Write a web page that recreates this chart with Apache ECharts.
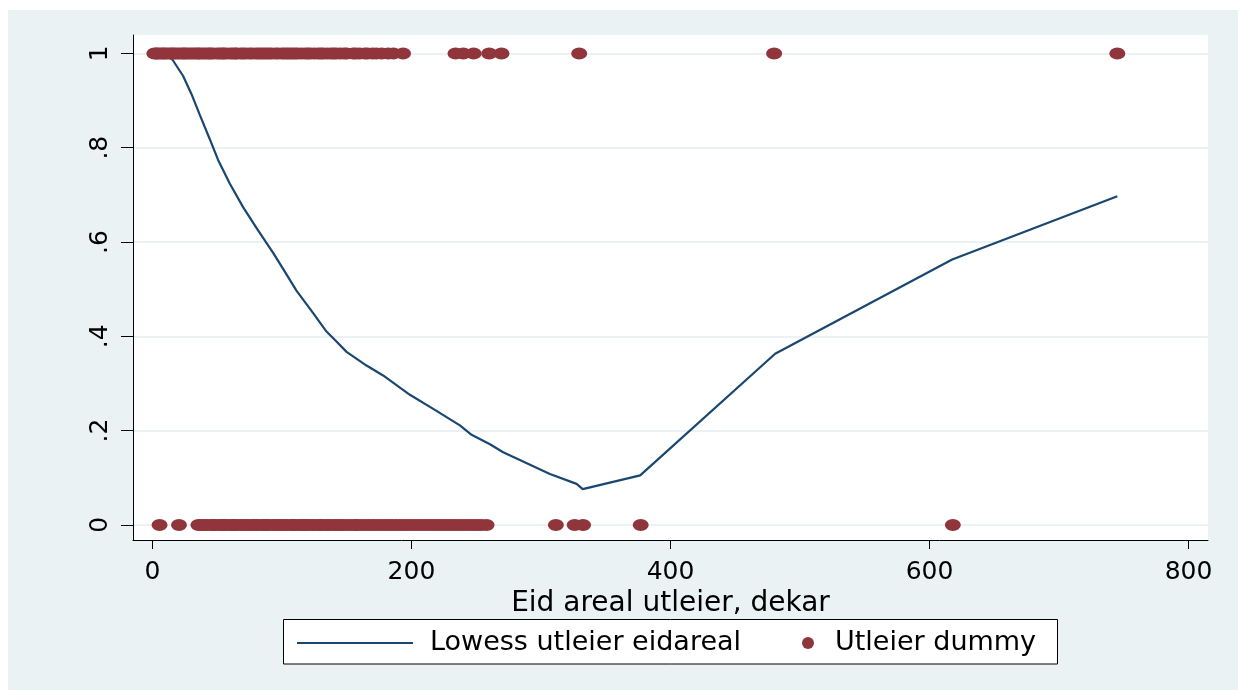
<!DOCTYPE html>
<html>
<head>
<meta charset="utf-8">
<script src="https://cdn.jsdelivr.net/npm/echarts@6/dist/echarts.min.js"></script>
<style>
html,body{margin:0;padding:0;background:#fff;}
#chart{width:1238px;height:690px;}
</style>
</head>
<body>
<div id="chart"></div>
<script>
// ---- data ----
const lowessX = [1.5, 10, 15.4, 23.7, 30.1, 36.5, 44.3, 50.7, 59.7, 70, 80.3, 93.2, 100.9, 111.2, 124.1, 134.4, 142.1, 149.9, 165.3, 178.1, 198.8, 216.8, 237.4, 246.4, 260.6, 270.8, 306.9, 327.5, 332.2, 376.6, 480.8, 617.5, 745];
const lowessY = [1.0, 0.998, 0.987, 0.952, 0.914, 0.87, 0.818, 0.774, 0.724, 0.674, 0.63, 0.577, 0.543, 0.497, 0.449, 0.41, 0.389, 0.367, 0.338, 0.317, 0.276, 0.246, 0.211, 0.191, 0.171, 0.154, 0.108, 0.087, 0.076, 0.105, 0.363, 0.563, 0.697];

const onesX = [1.5, 3, 4, 6, 8, 9, 11, 13, 15, 16, 18, 20, 22, 24, 25, 27, 29, 31, 33, 35, 36, 38, 40, 42, 44, 45, 47, 50, 52, 54, 55, 57, 60, 62, 64, 65, 68, 70, 72, 75, 77, 80, 82, 84, 86, 88, 90, 92, 95, 97, 100, 102, 104, 106, 108, 110, 112, 115, 118, 120, 122, 125, 128, 130, 132, 135, 138, 140, 142, 145, 148, 150, 155, 157, 160, 164, 166, 170, 173, 177, 182, 186, 193.5, 234, 240, 248, 260, 269.5, 329.5, 480, 745];
const zerosX = [5.5, 20.5, 35.5, 38, 40, 42, 45, 47, 49, 52, 54, 56, 58, 61, 63, 65, 68, 70, 72, 74, 77, 79, 81, 84, 86, 88, 90, 93, 95, 97, 100, 102, 104, 107, 109, 111, 114, 116, 118, 120, 123, 125, 128, 130, 132, 135, 137, 140, 142, 145, 147, 150, 153, 156, 158, 161, 164, 167, 170, 173, 176, 179, 182, 185, 188, 191, 194, 197, 200, 203, 206, 209, 212, 215, 218, 221, 224, 227, 230, 233, 236, 239, 242, 245, 248, 251, 254, 258, 311.5, 326, 332.5, 377, 618];

const xTicks = [0, 200, 400, 600, 800];
const yTicks = [0, 0.2, 0.4, 0.6, 0.8, 1];
const yTickLabels = ['0', '.2', '.4', '.6', '.8', '1'];

const xTitle = 'Eid areal utleier, dekar';
const lineName = 'Lowess utleier eidareal';
const dotName = 'Utleier dummy';

// ---- build ----
const lineData = lowessX.map((x, i) => [x, lowessY[i]]);
const dotData = onesX.map(x => [x, 1]).concat(zerosX.map(x => [x, 0]));

const FONT = 'DejaVu Sans';
const chart = echarts.init(document.getElementById('chart'), null, {renderer: 'canvas'});

chart.setOption({
  backgroundColor: '#ffffff',
  animation: false,
  graphic: [
    {type: 'rect', z: -10, silent: true, shape: {x: 8, y: 10, width: 1230, height: 680}, style: {fill: '#EAF2F3'}},
    {type: 'rect', z: 1, silent: true, shape: {x: 283.5, y: 619.5, width: 774, height: 44.5}, style: {fill: '#ffffff', stroke: '#000000', lineWidth: 1}}
  ],
  grid: {left: 133, right: 30, top: 35, bottom: 150, show: true, backgroundColor: '#ffffff', borderWidth: 0, containLabel: false},
  xAxis: {
    type: 'value', min: -15, max: 815,
    name: xTitle, nameLocation: 'middle', nameGap: 35,
    nameTextStyle: {fontFamily: FONT, fontSize: 28, color: '#000'},
    axisLine: {show: true, onZero: false, lineStyle: {color: '#000', width: 1}},
    axisTick: {show: true, length: 9, lineStyle: {color: '#000', width: 1}, customValues: xTicks},
    axisLabel: {show: true, customValues: xTicks, margin: 20, fontFamily: FONT, fontSize: 25, color: '#000'},
    splitLine: {show: false}
  },
  yAxis: {
    type: 'value', min: -0.032, max: 1.039,
    axisLine: {show: true, onZero: false, lineStyle: {color: '#000', width: 1}},
    axisTick: {show: true, length: 12, lineStyle: {color: '#000', width: 1}, customValues: yTicks},
    axisLabel: {
      show: true, customValues: yTicks, rotate: 90, margin: 20,
      fontFamily: FONT, fontSize: 25, color: '#000',
      formatter: v => { const i = yTicks.findIndex(t => Math.abs(t - v) < 1e-9); return i >= 0 ? yTickLabels[i] : ''; }
    },
    splitLine: {show: true, lineStyle: {color: '#EAF2F3', width: 2}}
  },
  legend: [
    {
      data: [{name: lineName, icon: 'rect'}], left: 297, top: 628, padding: 0, itemWidth: 116, itemHeight: 2, z: 5,
      textStyle: {fontFamily: FONT, fontSize: 27, color: '#000', lineHeight: 30, padding: [0, 0, 0, 12]},
      selectedMode: false
    },
    {
      data: [{name: dotName, icon: 'circle'}], left: 802, top: 628, padding: 0, itemWidth: 16, itemHeight: 12, z: 5,
      symbolKeepAspect: false,
      textStyle: {fontFamily: FONT, fontSize: 27, color: '#000', lineHeight: 30, padding: [0, 0, 0, 14]},
      selectedMode: false
    }
  ],
  series: [
    {
      name: lineName, type: 'line', data: lineData, symbol: 'none', z: 2,
      lineStyle: {color: '#1A476F', width: 2.2}, itemStyle: {color: '#1A476F'}
    },
    {
      name: dotName, type: 'scatter', data: dotData, symbol: 'circle', symbolSize: [16, 12], z: 3,
      itemStyle: {color: '#90353B', opacity: 1}
    }
  ]
});
</script>
</body>
</html>
